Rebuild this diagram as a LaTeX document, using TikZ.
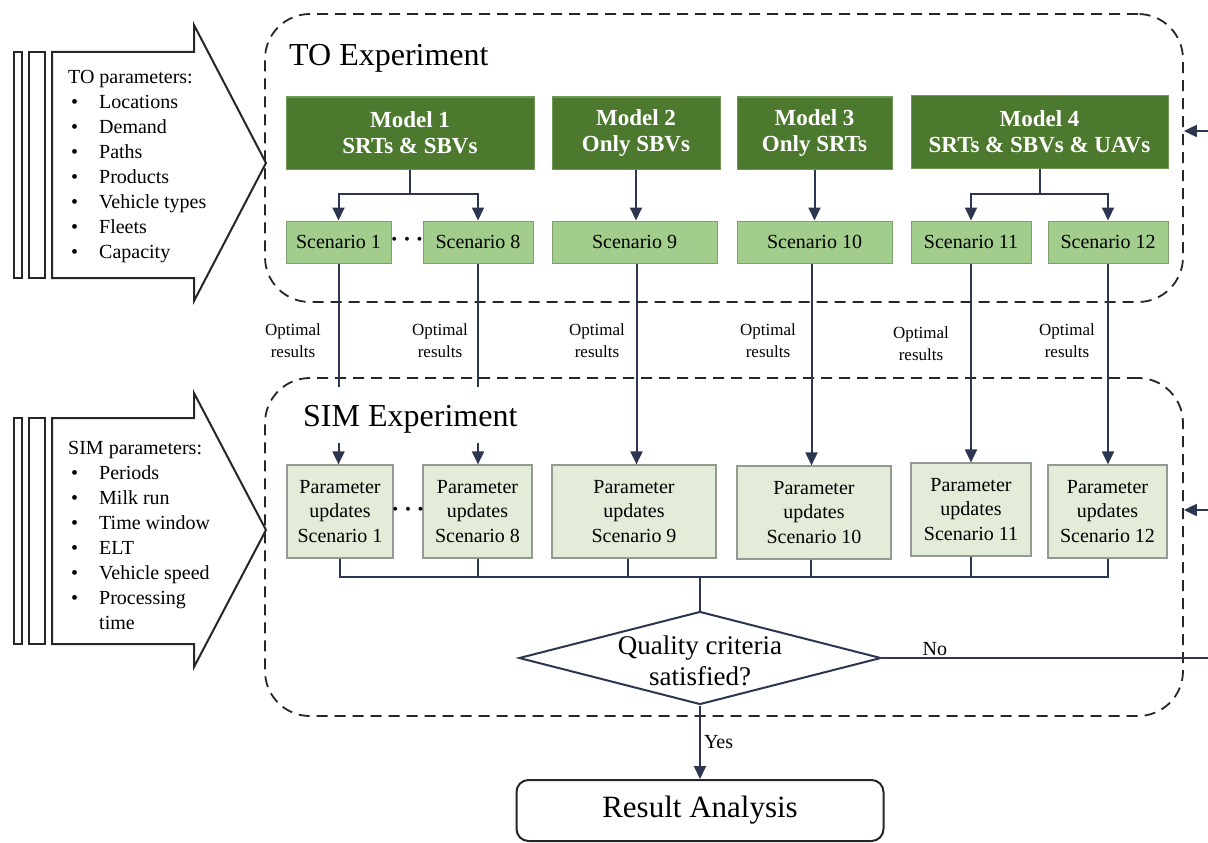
\documentclass[tikz,border=0pt]{standalone}
\usepackage{fontspec}
\setmainfont{Liberation Serif}
\usetikzlibrary{arrows.meta,shapes.geometric}
\definecolor{modelgreen}{RGB}{76,121,46}
\definecolor{modeledge}{RGB}{110,150,85}
\definecolor{scengreen}{RGB}{163,205,140}
\definecolor{scenedge}{RGB}{125,160,110}
\definecolor{pugreen}{RGB}{226,236,216}
\definecolor{puedge}{RGB}{145,155,145}
\definecolor{navy}{RGB}{44,54,80}
\newcommand\bitem{\makebox[31pt][l]{\hspace{3pt}\textbullet}}
\newcommand\bblank{\makebox[31pt][l]{}}
\begin{document}
\begin{tikzpicture}[x=1pt,y=-1pt,
  conn/.style={draw=navy, line width=2pt},
  arr/.style={conn, -{Triangle[length=13pt,width=12pt]}},
  modelbox/.style={draw=modeledge, line width=1pt, fill=modelgreen, text=white, font=\bfseries\fontsize{23}{26}\selectfont, align=center, inner sep=0pt, minimum height=72pt},
  scenbox/.style={draw=scenedge, line width=1pt, fill=scengreen, font=\fontsize{20}{24}\selectfont, inner sep=0pt, minimum height=42pt},
  pubox/.style={draw=puedge, line width=1.2pt, fill=pugreen, font=\fontsize{20}{24.5}\selectfont, align=center, inner sep=0pt, minimum height=93pt},
  dashbox/.style={draw=black!85, line width=1.8pt, dash pattern=on 11pt off 7pt, rounded corners=45pt, inner sep=0pt},
  bigarrow/.style={draw=black!85, line width=2pt, fill=white},
  optlab/.style={font=\fontsize{17}{22}\selectfont, align=center, inner sep=0pt},
  small/.style={font=\fontsize{20}{24}\selectfont, inner sep=0pt},
  dotsnode/.style={font=\fontsize{26}{26}\selectfont\boldmath, inner sep=0pt}
]
\useasboundingbox (0,0) rectangle (1208,843);

% dashed experiment boxes
\node[dashbox, minimum width=918pt, minimum height=288pt] (tobox) at (724,158) {};
\node[dashbox, minimum width=918pt, minimum height=338pt] (simbox) at (724,547) {};
\node[anchor=base west, inner sep=0pt, font=\fontsize{32}{38}\selectfont] (totitle) at (289,66) {TO Experiment};
\node[anchor=base west, inner sep=0pt, font=\fontsize{32}{38}\selectfont] (simtitle) at (303,426) {SIM Experiment};

% left input arrows
\draw[bigarrow] (14,52) rectangle (22,278);
\draw[bigarrow] (29,52) rectangle (45,278);
\draw[bigarrow] (52,52) -- (194,52) -- (194,25) -- (266,163) -- (194,301) -- (194,278) -- (52,278) -- cycle;
\node[anchor=north west, align=left, inner sep=0pt, font=\fontsize{20}{25}\selectfont] (toparams) at (68,70)
  {TO parameters:\\ \bitem Locations\\ \bitem Demand\\ \bitem Paths\\ \bitem Products\\ \bitem Vehicle types\\ \bitem Fleets\\ \bitem Capacity};

\draw[bigarrow] (14,418) rectangle (22,644);
\draw[bigarrow] (29,418) rectangle (45,644);
\draw[bigarrow] (52,418) -- (194,418) -- (194,393) -- (266,530) -- (194,667) -- (194,644) -- (52,644) -- cycle;
\node[anchor=north west, align=left, inner sep=0pt, font=\fontsize{20}{25}\selectfont] (simparams) at (68,441)
  {SIM parameters:\\ \bitem Periods\\ \bitem Milk run\\ \bitem Time window\\ \bitem ELT\\ \bitem Vehicle speed\\ \bitem Processing\\ \bblank time};

% models
\node[modelbox, minimum width=248pt] (m1) at (410,133) {Model 1\\SRTs \& SBVs};
\node[modelbox, minimum width=168pt] (m2) at (636,133) {Model 2\\Only SBVs};
\node[modelbox, minimum width=155pt] (m3) at (814.5,133) {Model 3\\Only SRTs};
\node[modelbox, minimum width=257pt] (m4) at (1039.5,132) {Model 4\\SRTs \& SBVs \& UAVs};

% scenarios
\node[scenbox, minimum width=105pt] (s1) at (338.5,242) {Scenario 1};
\node[scenbox, minimum width=110pt] (s8) at (478,242) {Scenario 8};
\node[scenbox, minimum width=165pt] (s9) at (634.5,242) {Scenario 9};
\node[scenbox, minimum width=155pt] (s10) at (814.5,242) {Scenario 10};
\node[scenbox, minimum width=120pt] (s11) at (971,242) {Scenario 11};
\node[scenbox, minimum width=120pt] (s12) at (1108,242) {Scenario 12};
\node[dotsnode] (dots1) at (407,240) {$\cdots$};

% parameter updates
\node[pubox, minimum width=106pt] (p1) at (340,511.5) {Parameter\\updates\\Scenario 1};
\node[pubox, minimum width=109pt] (p8) at (477.5,511.5) {Parameter\\updates\\Scenario 8};
\node[pubox, minimum width=164pt] (p9) at (634,511.5) {Parameter\\updates\\Scenario 9};
\node[pubox, minimum width=154pt] (p10) at (814,512.5) {Parameter\\updates\\Scenario 10};
\node[pubox, minimum width=120pt] (p11) at (971,509.5) {Parameter\\updates\\Scenario 11};
\node[pubox, minimum width=119pt] (p12) at (1107.5,511.5) {Parameter\\updates\\Scenario 12};
\node[dotsnode] (dots2) at (408,510) {$\cdots$};

% model -> scenario
\draw[conn] (m1.south) -- ++(0,24) coordinate (m1j);
\draw[arr] (m1j) -| (s1.north);
\draw[arr] (m1j) -| (s8.north);
\draw[arr] (m2.south) -- (m2.south |- s9.north);
\draw[arr] (m3.south) -- (m3.south |- s10.north);
\draw[conn] (m4.south) -- ++(0,25) coordinate (m4j);
\draw[arr] (m4j) -| (s11.north);
\draw[arr] (m4j) -| (s12.north);

% scenario -> parameter updates
\coordinate (c1a) at (338.5,387);
\coordinate (c1b) at (338.5,443);
\coordinate (c8a) at (478,387);
\coordinate (c8b) at (478,443);
\draw[conn] (s1.south) -- (c1a);
\draw[arr] (c1b) -- (c1b |- p1.north);
\draw[conn] (s8.south) -- (c8a);
\draw[arr] (c8b) -- (c8b |- p8.north);
\draw[arr] ([xshift=2pt]s9.south) -- ([xshift=2pt]s9.south |- p9.north);
\draw[arr] ([xshift=-3pt]s10.south) -- ([xshift=-3pt]s10.south |- p10.north);
\draw[arr] (s11.south) -- (s11.south |- p11.north);
\draw[arr] (s12.south) -- (s12.south |- p12.north);

\node[optlab] (o1) at (293,341) {Optimal\\results};
\node[optlab] (o2) at (440,341) {Optimal\\results};
\node[optlab] (o3) at (597,341) {Optimal\\results};
\node[optlab] (o4) at (768,341) {Optimal\\results};
\node[optlab] (o5) at (921,344) {Optimal\\results};
\node[optlab] (o6) at (1067,341) {Optimal\\results};

% merge to decision
\node[diamond, draw=navy, line width=2pt, fill=white, minimum width=362pt, minimum height=93pt, inner sep=0pt] (q) at (700,658) {};
\node[align=center, inner sep=0pt, font=\fontsize{27}{31}\selectfont] (qtext) at (700,661) {Quality criteria\\satisfied?};
\coordinate (bus) at (700,577);
\draw[conn] (p1.south) -- (p1.south |- bus) -- (p12.south |- bus) -- (p12.south);
\draw[conn] ([xshift=-6pt]p9.south) -- ([xshift=-6pt]p9.south |- bus);
\draw[conn] ([xshift=-3pt]p10.south) -- ([xshift=-3pt]p10.south |- bus);
\draw[conn] (p11.south) -- (p11.south |- bus);
\draw[conn] (p8.south) -- (p8.south |- bus);
\draw[conn] (bus) -- (q.north);

% result
\node[draw=black!85, line width=2pt, rounded corners=12pt, minimum width=367pt, minimum height=61pt, inner sep=0pt, font=\fontsize{31}{36}\selectfont] (res) at (700,810.5) {Result Analysis};
\draw[arr] (q.south) -- node[right, small, xshift=3pt, yshift=0pt] (yes) {Yes} (res.north);

% feedback (vertical return line lies just beyond the right edge)
\coordinate (fb1) at (1213,658);
\coordinate (fb2) at (1213,510);
\coordinate (fb3) at (1213,131);
\draw[conn] (q.east) -- node[above, small, pos=0.16, yshift=1pt] (no) {No} (fb1) -- (fb3);
\draw[arr] (fb3) -- (tobox.east |- fb3);
\draw[arr] (fb2) -- (simbox.east |- fb2);
\end{tikzpicture}
\end{document}
